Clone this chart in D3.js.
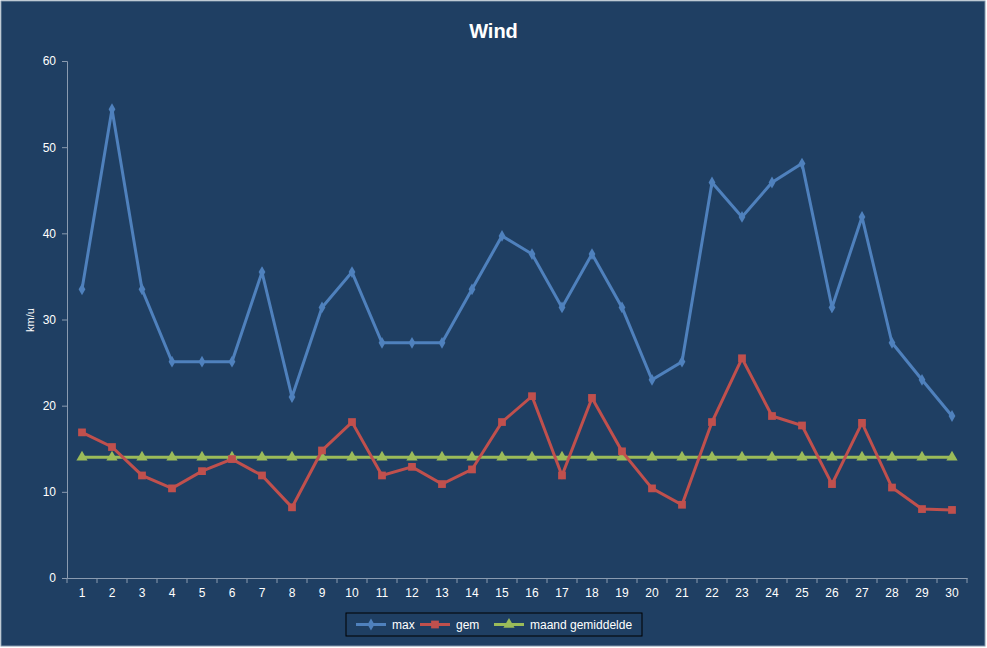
<!DOCTYPE html>
<html><head><meta charset="utf-8">
<script src="https://cdn.jsdelivr.net/npm/d3@7"></script>
<style>body{margin:0;background:#fff}svg{display:block;font-family:"Liberation Sans",Arial,sans-serif}</style>
</head><body>
<script>
// Daily wind readings for the month.
const days = d3.range(1, 31).map(String);
const maxWind = [33.5,54.4,33.5,25.1,25.1,25.1,35.5,21.0,31.4,35.5,27.3,27.3,27.3,33.5,39.7,37.6,31.4,37.6,31.4,23.0,25.1,45.9,41.9,45.9,48.1,31.4,41.9,27.3,23.0,18.8];
const gemWind = [16.9,15.2,11.9,10.4,12.4,13.8,11.9,8.2,14.8,18.1,11.9,12.9,10.9,12.6,18.1,21.1,11.9,20.9,14.7,10.4,8.5,18.1,25.5,18.8,17.7,10.9,18.0,10.5,8.0,7.9];
const maandGem = days.map(() => 14.0);
const yTicks = [0,10,20,30,40,50,60];

const W = 987, H = 648;
const svg = d3.select("body").append("svg").attr("width", W).attr("height", H);
svg.append("rect").attr("x",1).attr("y",1).attr("width",W-3).attr("height",H-3)
  .attr("fill","#1F3F63").attr("stroke","#8095AA");

const x = d3.scaleBand().domain(days).range([67, 967]);
const y = d3.scaleLinear().domain([0, 60]).range([578, 61]);

svg.append("text").attr("x", W/2).attr("y", 38).attr("text-anchor","middle")
  .attr("fill","#fff").attr("font-size",20).attr("font-weight","bold").text("Wind");

// Axes
const yAxis = svg.append("g").attr("transform","translate(67,0)")
  .call(d3.axisLeft(y).tickValues(yTicks).tickSize(5).tickPadding(6));
const xAxis = svg.append("g").attr("transform","translate(0,578)")
  .call(d3.axisBottom(x).tickSize(0).tickPadding(10));
svg.append("g").attr("transform","translate(0,578)")
  .selectAll("line").data(days.concat(["end"])).join("line")
  .attr("x1", (d,i) => 67 + i*x.step()).attr("x2", (d,i) => 67 + i*x.step())
  .attr("y1",0).attr("y2",5).attr("stroke","#8A9BB0");
[yAxis, xAxis].forEach(a => {
  a.selectAll("path,line").attr("stroke","#8A9BB0");
  a.selectAll("text").attr("fill","#fff").attr("font-size",12);
});
svg.append("text").attr("transform","translate(34,320) rotate(-90)")
  .attr("text-anchor","middle").attr("fill","#fff").attr("font-size",11).text("km/u");

const cx = d => x(d) + x.bandwidth()/2;
const series = [
  {name:"max", vals:maxWind, color:"#4F81BD", sym:d3.symbolDiamond, size:40},
  {name:"gem", vals:gemWind, color:"#C0504D", sym:d3.symbolSquare, size:60},
  {name:"maand gemiddelde", vals:maandGem, color:"#9BBB59", sym:d3.symbolTriangle, size:55}
];
const line = d3.line().x((d,i) => cx(days[i])).y(d => y(d));
series.slice().reverse().forEach(s => {
  svg.append("path").datum(s.vals).attr("d", line).attr("fill","none")
    .attr("stroke", s.color).attr("stroke-width",3);
  svg.append("g").selectAll("path").data(s.vals).join("path")
    .attr("transform",(d,i) => `translate(${cx(days[i])},${y(d)})`)
    .attr("d", d3.symbol(s.sym, s.size)).attr("fill", s.color);
});

// Legend
const lg = svg.append("g");
lg.append("rect").attr("x",346).attr("y",613).attr("width",296).attr("height",23)
  .attr("fill","none").attr("stroke","#000");
const lx = [356, 420, 494];
series.forEach((s,i) => {
  const g = lg.append("g").attr("transform",`translate(${lx[i]},624.5)`);
  g.append("line").attr("x1",0).attr("x2",30).attr("stroke",s.color).attr("stroke-width",3);
  g.append("path").attr("transform","translate(15,0)").attr("d", d3.symbol(s.sym, s.size)).attr("fill", s.color);
  g.append("text").attr("x",36).attr("y",4).attr("fill","#fff").attr("font-size",12).text(s.name);
});
</script>
</body></html>
